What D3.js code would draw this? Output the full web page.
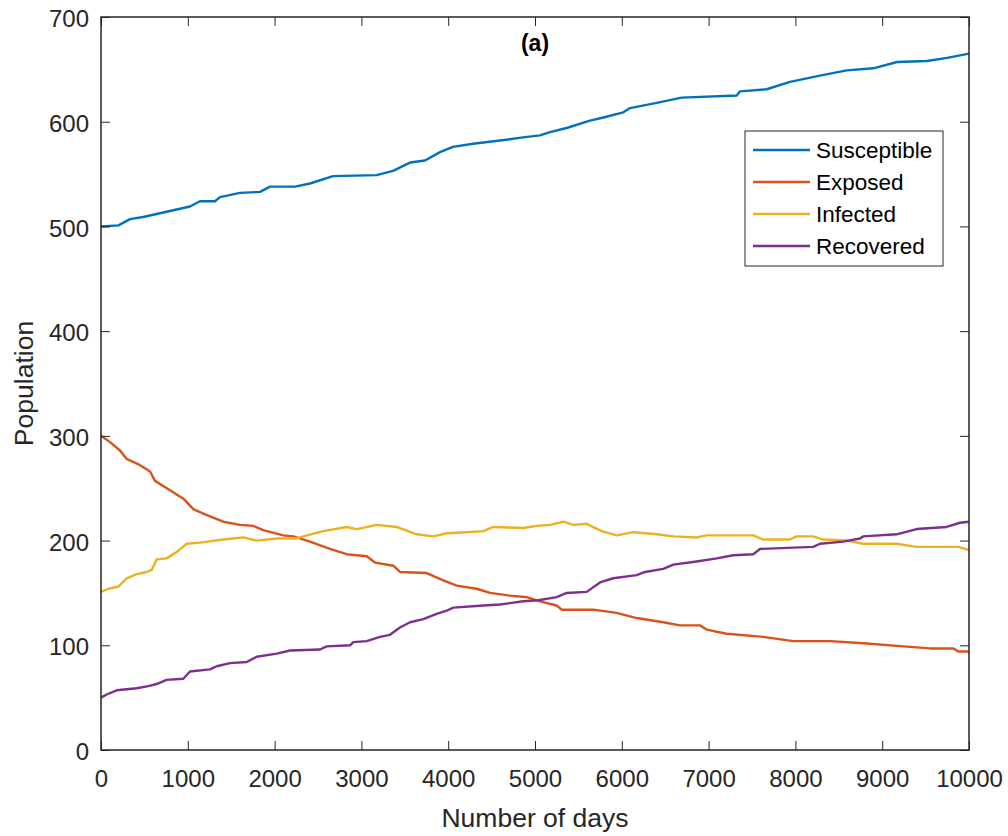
<!DOCTYPE html>
<html>
<head>
<meta charset="utf-8">
<script src="https://cdn.jsdelivr.net/npm/d3@7"></script>
<style>
  body { margin: 0; background: #fff; }
  svg { display: block; font-family: "Liberation Sans", Arial, sans-serif; }
</style>
</head>
<body>
<svg id="chart" width="1008" height="836"></svg>
<script>
// data: [day, population]
var susceptible = [[0,500],[200,501],[335,507],[485,509],[756,514],[1025,519],[1140,524],[1313,524],[1371,528],[1601,532],[1832,533],[1947,538],[2235,538],[2408,541],[2673,548],[3175,549],[3364,553],[3560,561],[3733,563],[3906,571],[4055,576],[4286,579],[4597,582],[4862,585],[5057,587],[5173,590],[5365,594],[5633,601],[5787,604],[6018,609],[6095,613],[6402,618],[6690,623],[7324,625],[7362,629],[7669,631],[7938,638],[8283,644],[8591,649],[8898,651],[9171,657],[9516,658],[9747,661],[10000,665]]
var exposed = [[0,300],[104,294],[219,286],[296,278],[450,272],[565,266],[622,257],[795,248],[949,240],[1064,230],[1198,225],[1409,218],[1601,215],[1755,214],[1870,210],[2100,205],[2216,204],[2408,199],[2638,192],[2830,187],[3061,185],[3157,179],[3368,176],[3445,170],[3752,169],[3944,162],[4098,157],[4328,154],[4482,150],[4750,147],[4904,146],[5058,142],[5250,138],[5307,134],[5672,134],[5941,131],[6171,126],[6478,122],[6670,119],[6900,119],[6977,115],[7208,111],[7630,108],[7976,104],[8399,104],[8782,102],[9243,99],[9551,97],[9820,97],[9877,94],[10000,94]]
var infected = [[0,151],[84,154],[200,156],[296,164],[411,168],[526,170],[584,172],[641,182],[756,183],[872,189],[987,197],[1140,198],[1409,201],[1640,203],[1793,200],[2024,202],[2254,202],[2370,205],[2562,209],[2830,213],[2946,211],[3176,215],[3406,213],[3637,206],[3829,204],[3983,207],[4213,208],[4405,209],[4520,213],[4866,212],[5019,214],[5173,215],[5326,218],[5442,215],[5595,216],[5768,209],[5941,205],[6133,208],[6402,206],[6594,204],[6862,203],[6977,205],[7323,205],[7515,205],[7630,201],[7937,201],[8014,204],[8206,204],[8321,201],[8590,200],[8782,197],[9166,197],[9396,194],[9742,194],[9877,194],[10000,191]]
var recovered = [[0,50],[65,53],[180,57],[411,59],[545,61],[641,63],[756,67],[948,68],[1025,75],[1256,77],[1333,80],[1487,83],[1679,84],[1794,89],[2024,92],[2178,95],[2523,96],[2600,99],[2869,100],[2907,103],[3061,104],[3214,108],[3329,110],[3444,117],[3560,122],[3713,125],[3867,130],[3982,133],[4059,136],[4405,138],[4597,139],[4866,142],[5038,143],[5250,146],[5365,150],[5595,151],[5749,160],[5902,164],[6171,167],[6267,170],[6478,173],[6594,177],[6862,180],[7093,183],[7285,186],[7515,187],[7592,192],[8206,194],[8283,197],[8552,199],[8744,202],[8782,204],[9166,206],[9396,211],[9742,213],[9896,217],[10000,218]]

var seriesNames = ['Susceptible', 'Exposed', 'Infected', 'Recovered']
var seriesColors = ['#0072BD', '#D95319', '#EDB120', '#7E2F8E']
var xTicks = [0, 1000, 2000, 3000, 4000, 5000, 6000, 7000, 8000, 9000, 10000]
var yTicks = [0, 100, 200, 300, 400, 500, 600, 700]

var width = 1008
var height = 836
var padding = {top: 17, bottom: 86, left: 101, right: 39}
var innerw = width - padding.left - padding.right
var innerh = height - padding.top - padding.bottom
var axisColor = '#262626'

var svg = d3.select('#chart')
var g = svg.append('g')
    .attr('transform', `translate(${padding.left},${padding.top})`)

var mapx = d3.scaleLinear().domain([0, 10000]).range([0, innerw])
var mapy = d3.scaleLinear().domain([0, 700]).range([innerh, 0])

/*
    lines
*/
var line = d3.line()
    .x(d => mapx(d[0]))
    .y(d => mapy(d[1]))

var allSeries = [susceptible, exposed, infected, recovered]
g.append('g').classed('lines', true)
  .selectAll('path')
  .data(allSeries)
  .enter()
  .append('path')
    .attr('d', d => line(d))
    .attr('fill', 'none')
    .attr('stroke', (d, i) => seriesColors[i])
    .attr('stroke-width', 2.4)
    .attr('stroke-linejoin', 'round')

/*
    axes, MATLAB style box with inward ticks
*/
function styleAxis (sel) {
  sel.select('.domain').remove()
  sel.selectAll('.tick line').attr('stroke', axisColor).attr('stroke-width', 1)
  sel.selectAll('.tick text')
      .attr('fill', axisColor)
      .style('font-size', '24px')
}

var axB = g.append('g')
    .attr('transform', `translate(0,${innerh})`)
    .call(d3.axisBottom(mapx).tickValues(xTicks).tickSizeInner(-9).tickSizeOuter(0).tickPadding(20).tickFormat(d3.format('d')))
styleAxis(axB)
axB.selectAll('.tick text').attr('dy', '0.71em')

var axT = g.append('g')
    .call(d3.axisTop(mapx).tickValues(xTicks).tickSizeInner(-9).tickSizeOuter(0).tickFormat(''))
styleAxis(axT)

var axL = g.append('g')
    .call(d3.axisLeft(mapy).tickValues(yTicks).tickSizeInner(-9).tickSizeOuter(0).tickPadding(12))
styleAxis(axL)
axL.selectAll('.tick text').attr('dy', '0.4em')

var axR = g.append('g')
    .attr('transform', `translate(${innerw},0)`)
    .call(d3.axisRight(mapy).tickValues(yTicks).tickSizeInner(-9).tickSizeOuter(0).tickFormat(''))
styleAxis(axR)

g.append('rect')
    .attr('width', innerw)
    .attr('height', innerh)
    .attr('fill', 'none')
    .attr('stroke', axisColor)
    .attr('stroke-width', 1.5)

/*
    labels
*/
svg.append('text')
    .attr('x', padding.left + innerw / 2)
    .attr('y', 827)
    .attr('text-anchor', 'middle')
    .attr('fill', axisColor)
    .style('font-size', '26.5px')
    .text('Number of days')

svg.append('text')
    .attr('transform', `translate(33,${padding.top + innerh / 2}) rotate(-90)`)
    .attr('text-anchor', 'middle')
    .attr('fill', axisColor)
    .style('font-size', '26.5px')
    .text('Population')

svg.append('text')
    .attr('x', padding.left + innerw / 2)
    .attr('y', 51)
    .attr('text-anchor', 'middle')
    .attr('fill', '#000')
    .style('font-size', '23px')
    .style('font-weight', 'bold')
    .text('(a)')

/*
    legend
*/
var legend = svg.append('g').attr('transform', 'translate(745,131)')
legend.append('rect')
    .attr('width', 198)
    .attr('height', 135)
    .attr('fill', '#fff')
    .attr('stroke', axisColor)
    .attr('stroke-width', 1)

var rows = legend.selectAll('.row')
  .data(seriesNames)
  .enter()
  .append('g')
    .attr('transform', (d, i) => `translate(0,${19 + i * 32})`)

rows.append('line')
    .attr('x1', 8).attr('x2', 65)
    .attr('stroke', (d, i) => seriesColors[i])
    .attr('stroke-width', 2.4)

rows.append('text')
    .attr('x', 71)
    .attr('dy', '0.36em')
    .attr('fill', '#000')
    .style('font-size', '22.5px')
    .text(d => d)
</script>
</body>
</html>
